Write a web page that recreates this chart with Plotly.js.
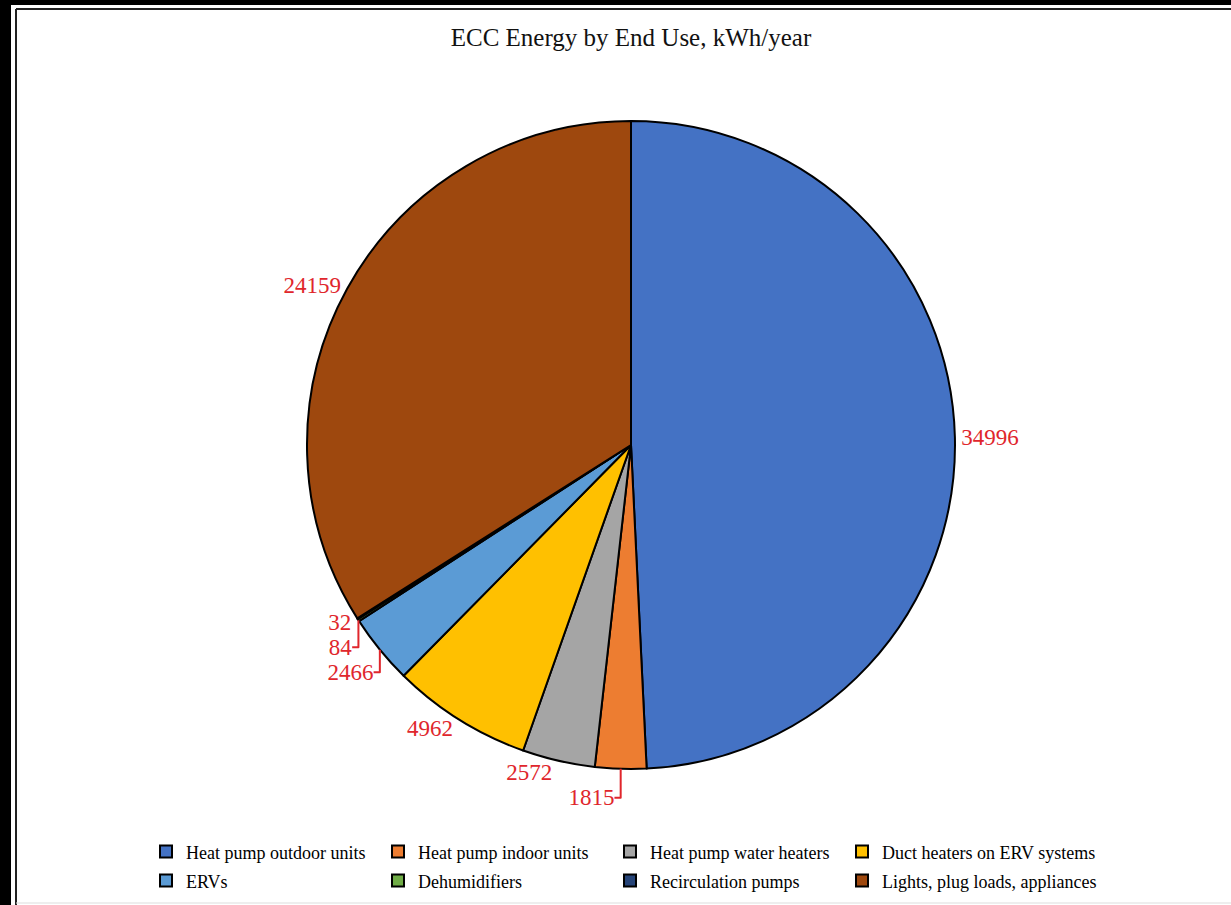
<!DOCTYPE html>
<html>
<head>
<meta charset="utf-8">
<script src="https://cdn.plot.ly/plotly-3.0.1.min.js"></script>
<style>
  html, body { margin: 0; padding: 0; background: #ffffff; }
  #chart { width: 1231px; height: 905px; }
</style>
</head>
<body>
<div id="chart"></div>
<script>
const categories = [
  "Heat pump outdoor units",
  "Heat pump indoor units",
  "Heat pump water heaters",
  "Duct heaters on ERV systems",
  "ERVs",
  "Dehumidifiers",
  "Recirculation pumps",
  "Lights, plug loads, appliances"
];
const energyKWh = [34996, 1815, 2572, 4962, 2466, 84, 32, 24159];
const sliceColors = ["#4472C4", "#ED7D31", "#A5A5A5", "#FFC000", "#5B9BD5", "#70AD47", "#264478", "#9E480E"];

const W = 1231, H = 905;
const ML = 115, MR = 116;          // margins so that the legend wraps after 4 entries
const GW = W - ML - MR;            // paper width
const px = v => (v - ML) / GW;     // pixel x -> paper x
const py = v => 1 - v / H;         // pixel y -> paper y (t = b = 0)
const cx = 631, cy = 445, R = 324;
const serif = "Liberation Serif, Times New Roman, serif";

const legendLabels = categories.map(c => '<span style="font-size:18px">' + c + '</span>');

const trace = {
  type: "pie",
  labels: legendLabels,
  values: energyKWh,
  sort: false,
  direction: "clockwise",
  rotation: 0,
  marker: { colors: sliceColors, line: { color: "#000000", width: 2 } },
  textinfo: "value",
  textposition: "outside",
  texttemplate: "%{value:d}",
  outsidetextfont: { family: serif, size: 23, color: "#E0262C" },
  hoverinfo: "skip",
  domain: {
    x: [px(cx - R), px(cx + R)],
    y: [py(cy + R), py(cy - R)]
  },
  automargin: false
};

const layout = {
  width: W,
  height: H,
  margin: { l: ML, r: MR, t: 0, b: 0, autoexpand: false },
  paper_bgcolor: "#ffffff",
  plot_bgcolor: "#ffffff",
  font: { family: serif, color: "#000000" },
  title: {
    text: "ECC Energy by End Use, kWh/year",
    font: { family: serif, size: 25, color: "#111111" },
    x: px(631), xanchor: "center",
    y: py(37), yanchor: "middle",
    xref: "paper", yref: "paper"
  },
  showlegend: true,
  legend: {
    orientation: "h",
    x: px(146), xanchor: "left",
    y: py(832), yanchor: "top",
    entrywidth: 187,
    entrywidthmode: "pixels",
    traceorder: "normal",
    font: { family: serif, size: 20, color: "#000000" },
    itemwidth: 30,
    bgcolor: "rgba(0,0,0,0)"
  },
  shapes: [
    { type: "rect", xref: "paper", yref: "paper", x0: px(0), x1: px(11), y0: 0, y1: 1, fillcolor: "#000000", line: { width: 0 }, layer: "above" },
    { type: "rect", xref: "paper", yref: "paper", x0: px(0), x1: px(W), y0: py(5), y1: 1, fillcolor: "#000000", line: { width: 0 }, layer: "above" },
    { type: "line", xref: "paper", yref: "paper", x0: px(16), x1: px(16), y0: 0, y1: py(9), line: { color: "#222222", width: 2 }, layer: "above" },
    { type: "line", xref: "paper", yref: "paper", x0: px(16), x1: px(W), y0: py(9), y1: py(9), line: { color: "#222222", width: 2 }, layer: "above" },
    { type: "line", xref: "paper", yref: "paper", x0: px(16), x1: px(W), y0: py(903), y1: py(903), line: { color: "#dddddd", width: 1 }, layer: "above" }
  ]
};

Plotly.newPlot("chart", [trace], layout, { displayModeBar: false, staticPlot: true }).then(gd => {
  // let the last legend column show its full text instead of being clipped at entrywidth
  gd.querySelectorAll(".legend .scrollbox, .legend").forEach(el => el.removeAttribute("clip-path"));
});
</script>
</body>
</html>
